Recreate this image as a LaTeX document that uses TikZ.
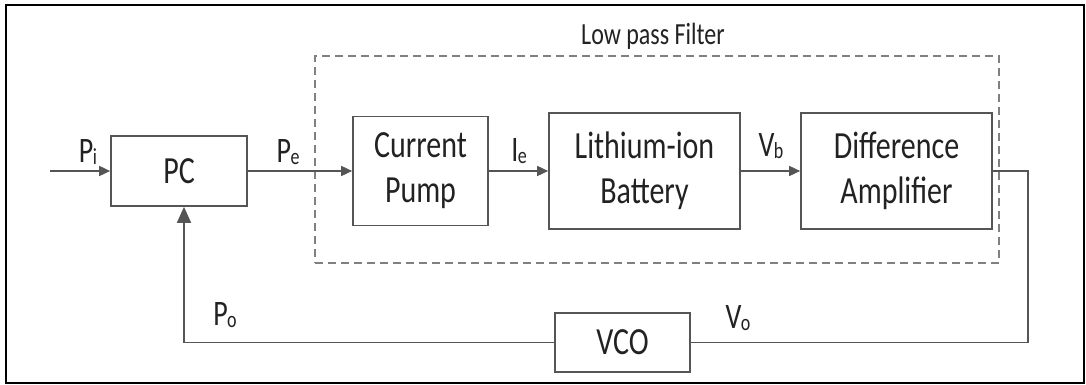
\documentclass[tikz,border=0pt]{standalone}
\usepackage{fontspec}
\setmainfont{Carlito}
\usepackage{graphicx}
\usetikzlibrary{arrows.meta,positioning}

\definecolor{linegray}{HTML}{555555}
\definecolor{dashgray}{HTML}{808080}
\definecolor{textgray}{HTML}{222222}
\newcommand{\tall}[1]{\scalebox{1}[1.28]{#1}}
\newcommand{\sgl}[2]{\tall{#1\kern-0.5pt\raisebox{-1.5pt}{\fontsize{18}{18}\selectfont #2}}}

\begin{document}
\begin{tikzpicture}[
    x=1pt, y=-1pt,
    block/.style={draw=linegray, line width=1.7pt, align=center, inner sep=0pt, text=textgray, font=\fontsize{30}{45}\selectfont},
    sig/.style={inner sep=0pt, text=textgray, font=\fontsize{28}{30}\selectfont},
    filter/.style={draw=dashgray, line width=2.6pt, dash pattern=on 8pt off 5pt, inner sep=0pt},
    arrow/.style={-{Triangle[length=11pt,width=10pt]}, line width=1.7pt, draw=linegray},
    fbarrow/.style={-{Triangle[length=16pt,width=14pt]}, line width=1.7pt, draw=linegray},
    wire/.style={line width=1.7pt, draw=linegray}
]
\useasboundingbox (0,0) rectangle (1086,385);
\draw[line width=1.8pt, black] (6,5) rectangle (1084,383);

% low pass filter frame
\node[filter, minimum width=684pt, minimum height=207pt] (lpf) at (657,159.5) {};
\node[sig, font=\fontsize{24}{26}\selectfont] (lpflabel) at (653,36) {\tall{Low pass Filter}};

% blocks
\node[block, minimum width=136pt, minimum height=70pt] (pc) at (179,171) {\tall{PC}};
\node[block, minimum width=135pt, minimum height=109pt] (pump) at (420.5,171) {\tall{Current}\\\tall{Pump}};
\node[block, minimum width=191pt, minimum height=116pt] (battery) at (644.5,171) {\tall{Lithium-ion}\\\tall{Battery}};
\node[block, minimum width=191pt, minimum height=116pt] (diffamp) at (896.5,171) {\tall{Difference}\\\tall{Amplifier}};
\node[block, minimum width=135pt, minimum height=59pt] (vco) at (622.5,342.5) {\tall{VCO}};

\coordinate (input) at (50,171);
\coordinate (turn) at (1028,171);

% signals
\node[sig] (pi) at (88,152) {\sgl{P}{i}};
\node[sig] (pe) at (288,152) {\sgl{P}{e}};
\node[sig] (ie) at (519,151) {\sgl{I}{e}};
\node[sig] (vb) at (771,146) {\sgl{V}{b}};
\node[sig] (vo) at (738,318) {\sgl{V}{o}};
\node[sig] (po) at (225,315) {\sgl{P}{o}};

\draw[arrow] (input) -- (pc.west);
\draw[arrow] (pc.east) -- (pump.west);
\draw[arrow] (pump) -- (battery);
\draw[arrow] (battery) -- (diffamp);
\draw[wire] (diffamp.east) -- (turn) |- (vco.east);
\draw[fbarrow] (vco.west) -| ([xshift=5pt]pc.south);
\end{tikzpicture}
\end{document}
